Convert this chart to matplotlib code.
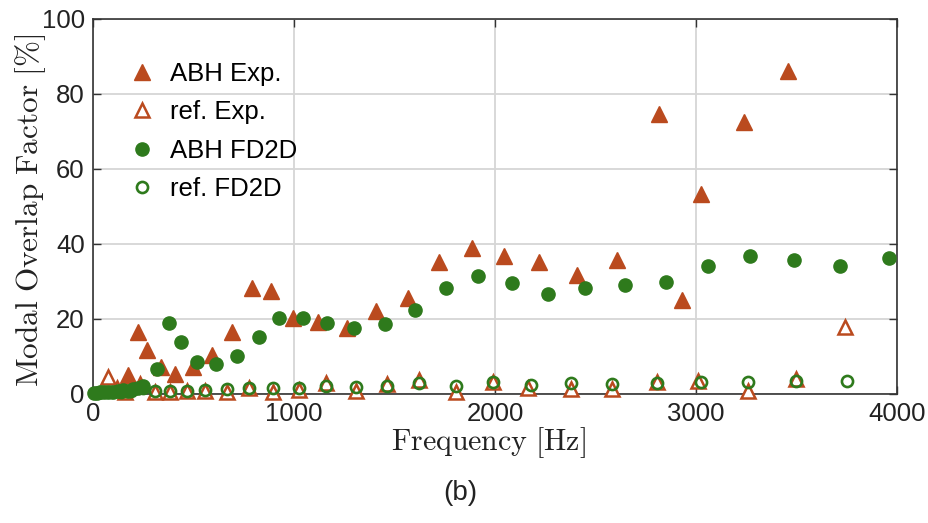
import matplotlib
matplotlib.use("Agg")
import matplotlib.pyplot as plt
from matplotlib.lines import Line2D

plt.rcParams['font.family'] = ['Liberation Sans', 'DejaVu Sans']
plt.rcParams['mathtext.fontset'] = 'cm'

# Modal overlap factor [%] versus frequency [Hz]
abh_exp_f = [174, 224, 269, 338, 408, 498, 592, 691, 789, 888, 995, 1121, 1262,
             1408, 1565, 1721, 1884, 2043, 2219, 2406, 2605, 2816, 2930, 3025,
             3239, 3460]
abh_exp_v = [5.1, 16.4, 11.7, 7.2, 5.2, 7.3, 10.4, 16.6, 28.3, 27.5, 20.3, 19.2,
             17.6, 22.0, 25.5, 35.3, 38.9, 36.8, 35.3, 31.7, 35.7, 74.7, 25.0,
             53.2, 72.5, 86.0]

ref_exp_f = [75, 119, 159, 234, 308, 383, 468, 557, 665, 778, 897, 1025, 1159,
             1308, 1461, 1623, 1806, 1988, 2165, 2378, 2581, 2804, 3010, 3260,
             3497, 3741]
ref_exp_v = [4.4, 1.6, 0.5, 2.6, 0.6, 0.6, 0.7, 0.8, 0.4, 1.6, 0.6, 1.1, 2.9,
             0.8, 2.7, 3.7, 0.6, 3.2, 1.6, 1.3, 1.3, 3.3, 3.5, 0.9, 3.9, 17.9]

abh_fd_f = [5, 20, 35, 55, 75, 100, 125, 150, 175, 200, 225, 250, 318, 378, 438,
            517, 612, 716, 826, 925, 1045, 1164, 1298, 1453, 1602, 1756, 1915,
            2085, 2264, 2450, 2647, 2853, 3058, 3270, 3486, 3716, 3962]
abh_fd_v = [0.2, 0.3, 0.4, 0.5, 0.6, 0.6, 0.8, 1.0, 0.9, 1.2, 1.6, 2.0, 6.6,
            18.9, 13.9, 8.5, 7.9, 10.2, 15.2, 20.2, 20.2, 18.9, 17.6, 18.6, 22.3,
            28.3, 31.5, 29.6, 26.6, 28.3, 29.0, 29.9, 34.2, 36.8, 35.7, 34.1, 36.3]

ref_fd_f = [40, 90, 140, 190, 249, 308, 383, 468, 557, 665, 778, 897, 1025, 1159,
            1308, 1461, 1623, 1806, 1988, 2177, 2378, 2581, 2804, 3025, 3260,
            3497, 3753]
ref_fd_v = [0.4, 0.5, 0.6, 0.8, 1.5, 0.8, 0.9, 0.9, 1.0, 1.3, 1.7, 1.5, 1.5, 2.2,
            1.8, 2.2, 2.9, 2.2, 3.1, 2.4, 2.9, 2.7, 3.0, 3.3, 3.3, 3.5, 3.5]

labels = ["ABH Exp.", "ref. Exp.", "ABH FD2D", "ref. FD2D"]
x_ticks = [0, 1000, 2000, 3000, 4000]
y_ticks = [0, 20, 40, 60, 80, 100]

orange = '#BA4A1E'
green = '#2E7A1C'

fig = plt.figure(figsize=(9.29, 5.23), dpi=100)
ax = fig.add_axes([0.1001, 0.2467, 0.8654, 0.7170])

ax.plot(abh_exp_f, abh_exp_v, ls='none', marker='^', ms=11.5, color=orange,
        mec=orange, clip_on=False, zorder=3)
ax.plot(ref_exp_f, ref_exp_v, ls='none', marker='^', ms=9.5, mfc='white',
        mec=orange, mew=1.8, clip_on=False, zorder=3)
ax.plot(abh_fd_f, abh_fd_v, ls='none', marker='o', ms=9.5, color=green,
        mec=green, clip_on=False, zorder=4)
ax.plot(ref_fd_f, ref_fd_v, ls='none', marker='o', ms=8, mfc='none',
        mec=green, mew=1.9, clip_on=False, zorder=4)

ax.set_xlim(0, 4000)
ax.set_ylim(0, 100)
ax.set_xticks(x_ticks)
ax.set_yticks(y_ticks)
ax.tick_params(direction='in', length=6, width=1, top=True, right=True,
               labelsize=18.5, colors='#333333', labelcolor='#222222', pad=6)
ax.grid(True, color='#d6d6d6', lw=1.3)
ax.set_axisbelow(True)
for s in ax.spines.values():
    s.set_color('#333333')
    s.set_linewidth(1.2)

fig.text(488 / 929, 1 - 443 / 523, r'$\mathrm{Frequency\ [Hz]}$', fontsize=21.5,
         color='#222222', ha='center', va='center')
fig.text(31 / 929, 1 - 210 / 523, r'$\mathrm{Modal\ Overlap\ Factor\ [\%]}$',
         fontsize=22.5, color='#222222', ha='center', va='center', rotation=90)

handles = [
    Line2D([], [], ls='none', marker='^', ms=11.5, color=orange),
    Line2D([], [], ls='none', marker='^', ms=9.5, mfc='white', mec=orange, mew=1.8),
    Line2D([], [], ls='none', marker='o', ms=9.5, color=green),
    Line2D([], [], ls='none', marker='o', ms=8, mfc='none', mec=green, mew=1.9),
]
ax.legend(handles, labels, loc='upper left', bbox_to_anchor=(0.035, 0.912),
          frameon=False, fontsize=18.5, handlelength=0.8, handletextpad=0.7,
          labelspacing=0.55, borderaxespad=0)

fig.text(0.495, 1 - 493 / 523, '(b)', ha='center', va='center', fontsize=20,
         color='#222222')

fig.savefig('out.png', dpi=100)
